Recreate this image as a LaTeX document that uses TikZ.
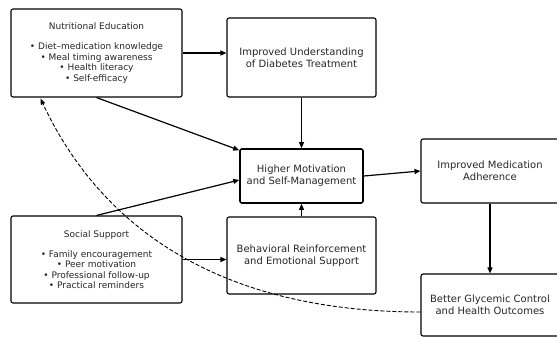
\documentclass[tikz,border=0pt]{standalone}
\usepackage{fontspec}
\setmainfont{DejaVu Sans}
\usetikzlibrary{arrows.meta,calc}
\begin{document}
\begin{tikzpicture}[x=1pt,y=-1pt,
  box/.style={draw=black,line width=1.1pt,rounded corners=2pt,align=center,text=black!85,inner sep=0pt},
  sidebox/.style={box,font=\fontsize{9}{10.4}\selectfont},
  midbox/.style={box,font=\fontsize{10}{11.6}\selectfont},
  arr/.style={line width=1.2pt,-{Triangle[length=6pt,width=5pt]}},
  dasharr/.style={line width=0.9pt,dash pattern=on 4pt off 2pt,-{Triangle[length=6pt,width=4.5pt]}}]
\useasboundingbox (0,0) rectangle (557,337);
\clip (0,0) rectangle (557,337);
\node[sidebox,minimum width=171pt,minimum height=88pt] (nutri) at (96.5,53)
  {Nutritional Education\\[9.6pt]• Diet–medication knowledge\\• Meal timing awareness\\• Health literacy\\• Self-efficacy};
\node[sidebox,minimum width=171pt,minimum height=87pt] (social) at (96.5,259.5)
  {Social Support\\[9.6pt]• Family encouragement\\• Peer motivation\\• Professional follow-up\\• Practical reminders};
\node[midbox,minimum width=149pt,minimum height=79pt] (underst) at (301.5,57.5)
  {Improved Understanding\\of Diabetes Treatment};
\node[midbox,minimum width=149pt,minimum height=77pt] (behav) at (301.5,255.5)
  {Behavioral Reinforcement\\and Emotional Support};
\node[midbox,line width=1.6pt,minimum width=123pt,minimum height=54pt] (motiv) at (301.5,176)
  {Higher Motivation\\and Self-Management};
\node[midbox,minimum width=138pt,minimum height=64pt] (adher) at (490,171)
  {Improved Medication\\Adherence};
\node[midbox,minimum width=138pt,minimum height=62pt] (glyc) at (490,305)
  {Better Glycemic Control\\and Health Outcomes};
\coordinate (dstart) at ($(glyc.west)+(0,7)$);
\coordinate (dend) at ($(nutri.south west)+(30,1)$);
\coordinate (dctrla) at (235,312);
\coordinate (dctrlb) at (107,240);
\draw[arr] (nutri.east) -- (nutri.east -| underst.west);
\draw[arr] (nutri.south) -- ($(motiv.north west)+(0,2)$);
\draw[arr] (social.north) -- ($(motiv.west)+(0,4)$);
\draw[arr] (social.east) -- (social.east -| behav.west);
\draw[arr] (underst.south) -- (motiv.north);
\draw[arr] (behav.north) -- (motiv.south);
\draw[arr] (motiv.east) -- (adher.west);
\draw[arr] (adher.south) -- (glyc.north);
\draw[dasharr] (dstart) .. controls (dctrla) and (dctrlb) .. (dend);
\end{tikzpicture}
\end{document}
